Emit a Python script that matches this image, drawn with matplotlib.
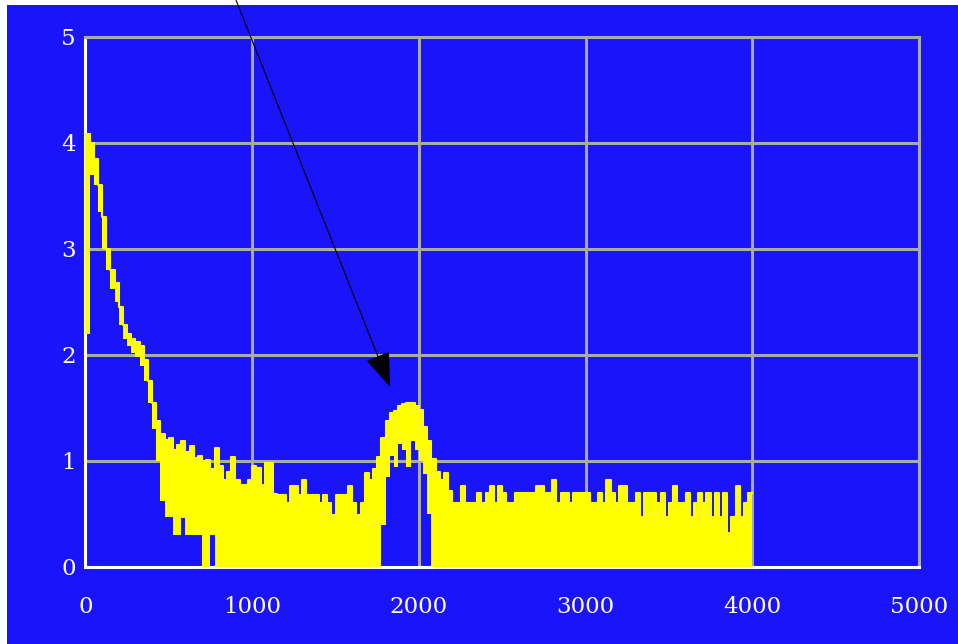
import numpy as np
import matplotlib
matplotlib.use('Agg')
import matplotlib.pyplot as plt
from matplotlib.patches import Rectangle

# channel bins (25 units wide), upper and lower envelope of the noisy trace
bin_width = 25
upper = [
    4.08, 4.00, 3.85, 3.60, 3.30, 3.00, 2.80, 2.68, 2.45, 2.28,   # 0-225
    2.20, 2.15, 2.12, 2.08, 1.95, 1.75, 1.55, 1.38, 1.25, 1.20,   # 250-475
    1.22, 1.10, 1.15, 1.19, 1.08, 1.14, 1.03, 1.05, 1.00, 1.01,   # 500-725
    0.92, 1.12, 0.95, 0.82, 0.90, 1.04, 0.82, 0.77, 0.77, 0.82,   # 750-975
    0.95, 0.93, 0.77, 0.98, 0.98, 0.69, 0.68, 0.68, 0.60, 0.76,   # 1000-1225
    0.76, 0.68, 0.82, 0.68, 0.68, 0.68, 0.60, 0.68, 0.60, 0.49,   # 1250-1475
    0.68, 0.68, 0.68, 0.76, 0.60, 0.49, 0.60, 0.89, 0.82, 0.92,   # 1500-1725
    1.04, 1.22, 1.38, 1.45, 1.47, 1.52, 1.54, 1.55, 1.55, 1.52,   # 1750-1975
    1.48, 1.32, 1.19, 1.02, 0.90, 0.82, 0.89, 0.72, 0.60, 0.60,   # 2000-2225
    0.76, 0.60, 0.60, 0.60, 0.70, 0.60, 0.70, 0.76, 0.60, 0.76,   # 2250-2475
    0.70, 0.60, 0.60, 0.70, 0.70, 0.70, 0.70, 0.70, 0.76, 0.76,   # 2500-2725
    0.70, 0.70, 0.82, 0.60, 0.70, 0.70, 0.60, 0.70, 0.70, 0.70,   # 2750-2975
    0.70, 0.60, 0.60, 0.70, 0.60, 0.82, 0.70, 0.60, 0.76, 0.76,   # 3000-3225
    0.60, 0.60, 0.70, 0.47, 0.70, 0.70, 0.70, 0.60, 0.70, 0.47,   # 3250-3475
    0.60, 0.76, 0.60, 0.60, 0.70, 0.47, 0.60, 0.70, 0.60, 0.70,   # 3500-3725
    0.47, 0.70, 0.47, 0.70, 0.32, 0.47, 0.76, 0.47, 0.60, 0.70,   # 3750-3975
]
lower = [
    2.20, 3.70, 3.60, 3.35, 3.00, 2.80, 2.62, 2.50, 2.28, 2.15,   # 0-225
    2.08, 2.02, 1.98, 1.90, 1.75, 1.55, 1.30, 1.00, 0.62, 0.47,   # 250-475
    0.47, 0.30, 0.30, 0.46, 0.30, 0.30, 0.30, 0.30, 0.00, 0.00,   # 500-725
    0.30, 0.00, 0.00, 0.00, 0.00, 0.00, 0.00, 0.00, 0.00, 0.00,   # 750-975
] + [0.0] * 30 + [                                                # 1000-1725
    0.00, 0.40, 0.85, 1.05, 0.94, 1.16, 1.10, 0.94, 1.19, 1.10,   # 1750-1975
    1.00, 0.88, 0.50,                                             # 2000-2050
] + [0.0] * 77                                                    # 2075-3975

channel = np.arange(len(upper)) * bin_width

x_ticks = [0, 1000, 2000, 3000, 4000, 5000]
y_ticks = [0, 1, 2, 3, 4, 5]

# arrow: from above the plot down to the peak
arrow_tip = (1827, 1.70)
arrow_start = (890, 5.40)

bg_blue = '#1914f9'
grid_gray = '#aaaaaa'

fig = plt.figure(figsize=(9.58, 6.44), dpi=100, facecolor='white')
fig.patches.append(Rectangle((7 / 958, 0), 1 - 7 / 958, 1 - 5 / 644,
                             transform=fig.transFigure, facecolor=bg_blue,
                             edgecolor='none', zorder=-10))

ax = fig.add_axes([0.0892, 0.1196, 0.8701, 0.8230])
ax.set_facecolor(bg_blue)

x_edges = np.append(channel, channel[-1] + bin_width)
up = np.append(upper, upper[-1])
lo = np.append(lower, lower[-1])
ax.fill_between(x_edges, lo, up, step='post', color='#ffff00', lw=0, zorder=3)
ax.step(x_edges, up, where='post', color='#ffff00', lw=1.5, zorder=3)

ax.set_xlim(0, 5000)
ax.set_ylim(0, 5)
ax.set_xticks(x_ticks)
ax.set_yticks(y_ticks)
ax.grid(True, color=grid_gray, lw=2.2)
ax.set_axisbelow(True)
ax.tick_params(length=0, colors='white', labelsize=16.5)
ax.tick_params(axis='x', pad=21)
ax.tick_params(axis='y', pad=7)
for lab in ax.get_xticklabels() + ax.get_yticklabels():
    lab.set_family('DejaVu Serif')

for side in ['left', 'bottom']:
    ax.spines[side].set_color('white')
    ax.spines[side].set_linewidth(2.2)
for side in ['top', 'right']:
    ax.spines[side].set_color(grid_gray)
    ax.spines[side].set_linewidth(2.2)

ax.annotate('', xy=arrow_tip, xytext=arrow_start, annotation_clip=False,
            arrowprops=dict(arrowstyle='-|>,head_length=2.2,head_width=0.8',
                            color='black', lw=0.8, shrinkA=0, shrinkB=0),
            zorder=5)

plt.savefig('out.png', dpi=100, facecolor=fig.get_facecolor())
